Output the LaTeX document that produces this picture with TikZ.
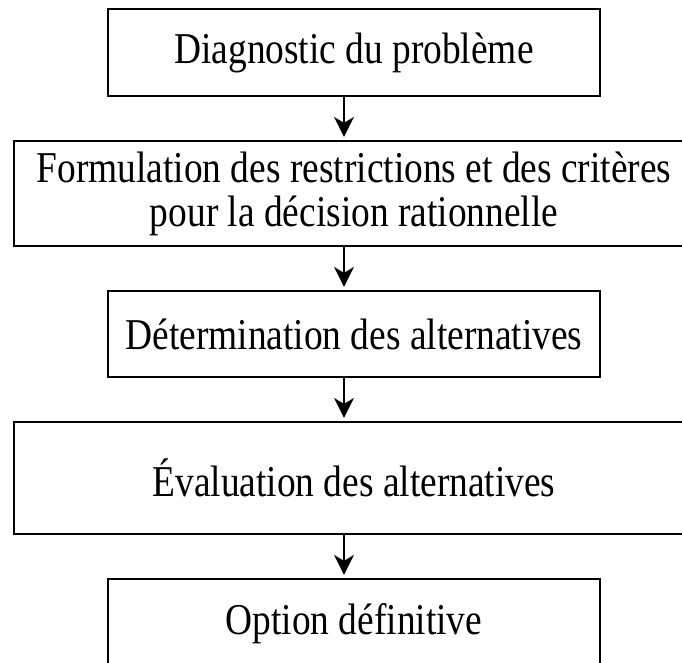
\documentclass[tikz,border=0pt]{standalone}
\usepackage{fontspec}
\setmainfont{Liberation Serif}
% a narrow, tall setting of the serif face
\newfontfamily\tallserif[FakeStretch=0.85]{Liberation Serif}
\usetikzlibrary{arrows.meta}
\begin{document}
\begin{tikzpicture}[x=1pt,y=-1pt,
  stepbox/.style={draw=black, line width=2.2pt, align=center, inner sep=0pt,
    font=\tallserif\fontsize{44}{44}\selectfont},
  narrowbox/.style={stepbox, minimum width=492pt},
  widebox/.style={stepbox, minimum width=680pt},
  flow/.style={line width=1.4pt, shorten >=3pt,
    -{Stealth[length=20pt, width=20pt, inset=6pt]}}]
  \useasboundingbox (0,0) rectangle (682,663);
  \clip (0,0) rectangle (682,663);

  % the five steps of the decision process
  \node[narrowbox, minimum height=87pt]  (diag) at (354,52.5) {Diagnostic du problème};
  \node[widebox,   minimum height=105pt] (form) at (354,193.5)
    {Formulation des restrictions et des critères\\pour la décision rationnelle};
  \node[narrowbox, minimum height=86pt]  (det)  at (354,334) {Détermination des alternatives};
  \node[widebox,   minimum height=112pt] (eval) at (354,478) {Évaluation des alternatives};
  \node[narrowbox, minimum height=90pt]  (opt)  at (354,624) {Option définitive};

  % arrows between consecutive steps
  \draw[flow] ([xshift=-10pt]diag.south) -- ([xshift=-10pt]form.north);
  \draw[flow] ([xshift=-10pt]form.south) -- ([xshift=-10pt]det.north);
  \draw[flow] ([xshift=-10pt]det.south)  -- ([xshift=-10pt]eval.north);
  \draw[flow] ([xshift=-10pt]eval.south) -- ([xshift=-10pt]opt.north);
\end{tikzpicture}
\end{document}
